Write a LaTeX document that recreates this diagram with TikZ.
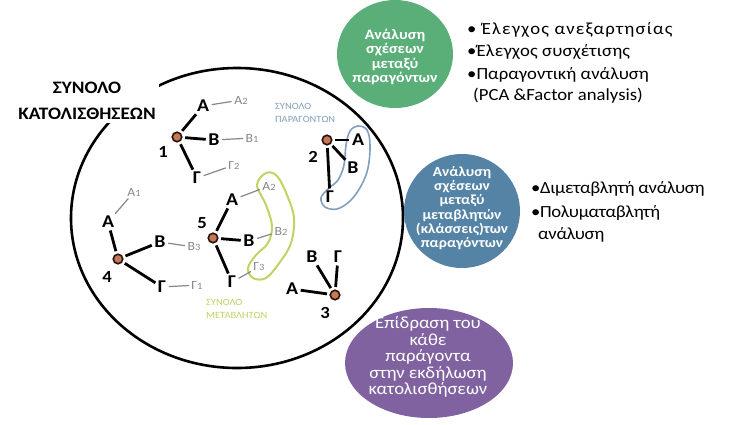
\documentclass[tikz,border=0pt]{standalone}
\usepackage{fontspec}
\usetikzlibrary{shapes.geometric}
\setmainfont{Carlito}[FakeStretch=1.1]
\definecolor{hubfill}{RGB}{195,120,90}
\definecolor{hubline}{RGB}{45,18,8}
\definecolor{subgrey}{RGB}{135,135,135}
\definecolor{cgreen}{RGB}{90,174,120}
\definecolor{cblue}{RGB}{84,131,165}
\definecolor{cpurple}{RGB}{128,98,160}
\definecolor{setblue}{RGB}{130,160,190}
\definecolor{setgreen}{RGB}{190,212,100}
\newcommand{\gl}[2]{#1{\fontsize{9.5}{9.5}\selectfont #2}}
\tikzset{
  hubdot/.style={circle, draw=hubline, fill=hubfill, line width=1.6pt, minimum size=9.5pt, inner sep=0pt},
  lettr/.style={font=\fontsize{18}{18}\selectfont\bfseries, inner sep=1.5pt},
  sublbl/.style={font=\fontsize{12.5}{12.5}\selectfont, text=subgrey, inner sep=1.5pt},
  numlbl/.style={font=\fontsize{17}{17}\selectfont\bfseries, inner sep=0pt},
  armline/.style={line width=2.8pt, shorten <=2.5pt, shorten >=1pt},
  twigline/.style={draw=subgrey, line width=1.2pt, shorten <=1pt, shorten >=1pt},
  bubbletext/.style={align=center, text=white, inner sep=0pt},
  bullet/.style={anchor=west, inner sep=0pt, font=\fontsize{17}{17}\selectfont},
  settext/.style={anchor=west, inner sep=0pt, align=left, font=\fontsize{9.5}{13}\selectfont},
}
\begin{document}
\begin{tikzpicture}[x=1pt,y=-1pt]
\fill[white] (0,0) rectangle (729,424);
\useasboundingbox (0,0) rectangle (729,424);

% big set ellipse
\draw[line width=2.6pt] (237,218) ellipse [x radius=166, y radius=150];

% title
\node[fill=white, inner sep=3pt, align=center, font=\fontsize{17.5}{26}\selectfont\bfseries] (title) at (87,101) {ΣΥΝΟΛΟ\\ΚΑΤΟΛΙΣΘΗΣΕΩΝ};

% coloured bubbles
\node[ellipse, fill=cgreen, minimum width=116pt, minimum height=108pt, inner sep=0pt] (g) at (395,54) {};
\node[ellipse, fill=cblue, minimum width=116pt, minimum height=114pt, inner sep=0pt] (bl) at (462,211) {};
\node[ellipse, fill=cpurple, minimum width=168pt, minimum height=110pt, inner sep=0pt] (pu) at (429,363) {};

\node[bubbletext, font=\fontsize{14.5}{14.5}\selectfont\bfseries] (gt) at (395,57) {Ανάλυση\\σχέσεων\\μεταξύ\\παραγόντων};
\node[bubbletext, font=\fontsize{14}{14.2}\selectfont\bfseries] (blt) at (462,208) {Ανάλυση\\σχέσεων\\μεταξύ\\μεταβλητών\\(κλάσσεις)των\\παραγόντων};
\node[bubbletext, font=\fontsize{17}{16.5}\selectfont] (put) at (428,357) {Επίδραση του\\κάθε\\παράγοντα\\στην εκδήλωση\\κατολισθήσεων};

% bullet lists
\node[bullet] (b1) at (467,30) {\addfontfeature{LetterSpace=7}• Έλεγχος ανεξαρτησίας};
\node[bullet] (b2) at (467,52) {\addfontfeature{LetterSpace=1}•Έλεγχος συσχέτισης};
\node[bullet] (b3) at (467,75) {•Παραγοντική ανάλυση};
\node[bullet] (b4) at (473,96) {(PCA \&Factor analysis)};
\node[bullet] (c1) at (531,189) {\addfontfeature{LetterSpace=-2}•Διμεταβλητή ανάλυση};
\node[bullet] (c2) at (531,213) {\addfontfeature{LetterSpace=-2}•Πολυματαβλητή};
\node[bullet] (c3) at (538,235) {\addfontfeature{LetterSpace=-2}ανάλυση};

% set outlines
\draw[setgreen, line width=2pt] plot[smooth cycle, tension=0.6] coordinates {(257,185) (266,173) (277,176) (287,195) (294,218) (291,243) (280,262) (266,278) (253,278) (248,268) (256,255) (268,243) (272,226) (266,205)};
\draw[setblue, line width=1.6pt] plot[smooth cycle, tension=0.6] coordinates {(350,131) (358,126) (367,130) (370,145) (368,168) (361,186) (350,201) (337,209) (325,207) (321,198) (328,189) (338,180) (344,165) (346,145)};

\node[settext, text=setblue] (sp) at (275,113) {ΣΥΝΟΛΟ\\ΠΑΡΑΓΟΝΤΩΝ};
\node[settext, text=setgreen] (sm) at (206,309) {ΣΥΝΟΛΟ\\ΜΕΤΑΒΛΗΤΩΝ};

% landslide 1
\node[hubdot] (n1) at (177,137) {};
\node[numlbl] (l1) at (163,152) {1};
\node[lettr] (n1a) at (203,106) {Α};
\node[lettr] (n1b) at (214,140) {Β};
\node[lettr] (n1g) at (197,178) {Γ};
\node[sublbl] (n1a2) at (241,100) {\gl{Α}{2}};
\node[sublbl] (n1b1) at (252,138) {\gl{Β}{1}};
\node[sublbl] (n1g2) at (234,165) {\gl{Γ}{2}};
\draw[armline] (n1) -- (n1a);
\draw[armline] (n1) -- (n1b);
\draw[armline] (n1) -- (n1g);
\draw[twigline] (n1a) -- (n1a2);
\draw[twigline] (n1b) -- (n1b1);
\draw[twigline] (n1g) -- (n1g2);

% landslide 4
\node[hubdot] (n4) at (118,259) {};
\node[numlbl] (l4) at (107,277) {4};
\node[lettr] (n4a) at (108,222) {Α};
\node[lettr] (n4b) at (160,242) {Β};
\node[lettr] (n4g) at (162,287) {Γ};
\node[sublbl] (n4a1) at (134,192) {\gl{Α}{1}};
\node[sublbl] (n4b3) at (194,247) {\gl{Β}{3}};
\node[sublbl] (n4g1) at (197,285) {\gl{Γ}{1}};
\draw[armline] (n4) -- (n4a);
\draw[armline] (n4) -- (n4b);
\draw[armline] (n4) -- (n4g);
\draw[twigline] (n4a) -- (n4a1);
\draw[twigline] (n4b) -- (n4b3);
\draw[twigline] (n4g) -- (n4g1);

% landslide 5
\node[hubdot] (n5) at (213,238) {};
\node[numlbl] (l5) at (202,223) {5};
\node[lettr] (n5a) at (232,200) {Α};
\node[lettr] (n5b) at (249,241) {Β};
\node[lettr] (n5g) at (232,282) {Γ};
\node[sublbl] (n5a2) at (269,186) {\gl{Α}{2}};
\node[sublbl] (n5b2) at (281,231) {\gl{Β}{2}};
\node[sublbl] (n5g3) at (259,267) {\gl{Γ}{3}};
\draw[armline] (n5) -- (n5a);
\draw[armline] (n5) -- (n5b);
\draw[armline] (n5) -- (n5g);
\draw[twigline] (n5a) -- (n5a2);
\draw[twigline] (n5b) -- (n5b2);
\draw[twigline] (n5g) -- (n5g3);

% landslide 2
\node[hubdot] (n2) at (327,140) {};
\node[numlbl] (l2) at (313,157) {2};
\node[lettr] (n2a) at (358,140) {Α};
\node[lettr] (n2b) at (353,168) {Β};
\node[lettr] (n2g) at (330,197) {Γ};
\draw[armline] (n2) -- (n2a);
\draw[armline] (n2) -- (n2b);
\draw[armline] (n2) -- (n2g);

% landslide 3
\node[hubdot] (n3) at (335,295) {};
\node[numlbl] (l3) at (325,313) {3};
\node[lettr] (n3a) at (292,289) {Α};
\node[lettr] (n3b) at (312,257) {Β};
\node[lettr] (n3g) at (338,257) {Γ};
\draw[armline] (n3) -- (n3a);
\draw[armline] (n3) -- (n3b);
\draw[armline] (n3) -- (n3g);
\end{tikzpicture}
\end{document}
